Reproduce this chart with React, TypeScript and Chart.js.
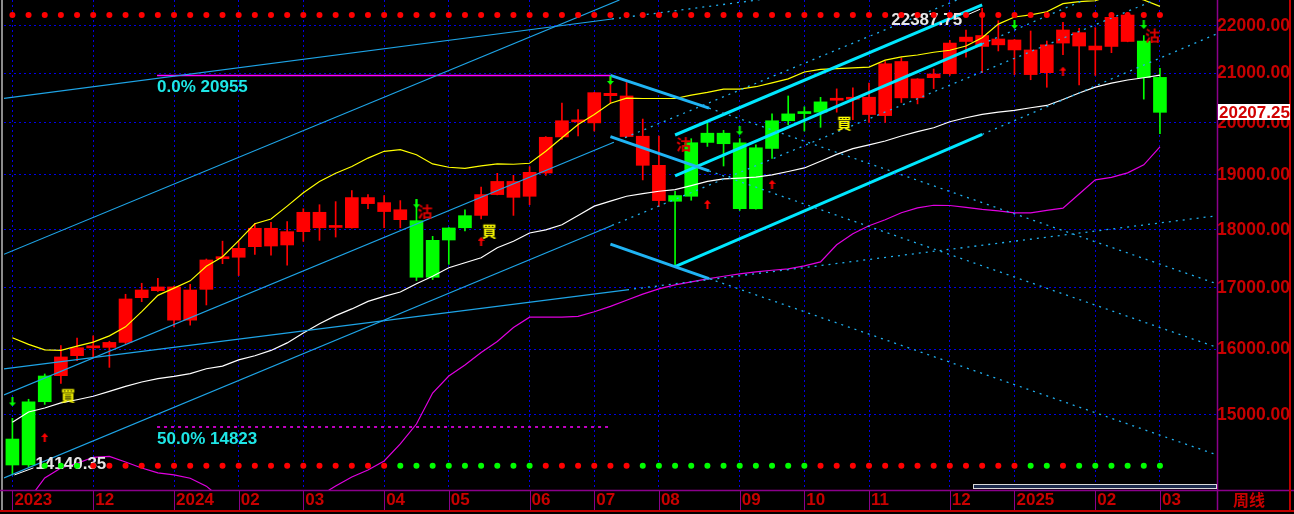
import React, { useEffect, useRef } from 'react';
import { Chart, registerables } from 'chart.js';

Chart.register(...registerables);

// ---------------- data ----------------
const xTickIndex = [0, 5, 10, 14, 18, 23, 27, 32, 36, 40, 45, 49, 53, 58, 62, 67, 71];
const xTickText = ['2023', '12', '2024', '02', '03', '04', '05', '06', '07', '08', '09', '10', '11', '12', '2025', '02', '03'];
const yTickValues = [15000, 16000, 17000, 18000, 19000, 20000, 21000, 22000];
const xMin = -0.52;
const xMax = 74.53;
const yMin = 13932;
const yMax = 22570;

const open = [14649, 14279, 15197, 15592, 15902, 16025, 16032, 16111, 16836, 16953,
  17015, 16468, 16975, 17495, 17520, 17703, 18027, 17733, 17967, 18313,
  18042, 18036, 18580, 18488, 18359, 18162, 17178, 17820, 18036, 18257,
  18635, 18878, 18604, 19035, 19723, 20018, 19998, 20588, 20535, 19737,
  19180, 18513, 18604, 19617, 19796, 19611, 18377, 19501, 20040, 20182,
  20210, 20449, 20469, 20510, 20142, 21244, 20497, 20908, 20990, 21667,
  21794, 21595, 21699, 21487, 21012, 21633, 21856, 21570, 21561, 22238,
  21676, 20914];
const high = [14951, 15234, 15618, 16059, 16179, 16216, 16130, 16893, 17077, 17162,
  17030, 17060, 17490, 17800, 17800, 18117, 18135, 18147, 18377, 18450,
  18506, 18709, 18635, 18617, 18525, 18543, 17885, 18040, 18359, 18771,
  19029, 18991, 19155, 19730, 20390, 20262, 20610, 20955, 20810, 20074,
  19741, 18696, 19689, 20026, 19851, 19690, 19572, 20176, 20535, 20317,
  20508, 20679, 20699, 20795, 21244, 21321, 20890, 21087, 21689, 21914,
  22387.75, 22115, 21710, 21892, 21676, 22080, 21950, 21963, 22250, 22298,
  21794, 21101];
const low = [14140.35, 14255, 15157, 15474, 15825, 15877, 15720, 16090, 16770, 16940,
  16360, 16387, 16716, 17409, 17207, 17570, 17558, 17386, 17796, 17814,
  17872, 18030, 18377, 18036, 18036, 17122, 17139, 17398, 17978, 18193,
  18630, 18257, 18450, 18991, 19675, 19741, 19838, 20390, 19720, 18906,
  18420, 17369, 18531, 19540, 19167, 18346, 18370, 19311, 19960, 19838,
  19911, 20210, 20060, 20006, 20006, 20403, 20376, 20685, 20955, 21334,
  21012, 21466, 20972, 20866, 20712, 21385, 20759, 20955, 21430, 21660,
  20471, 19786];
const close = [14279, 15197, 15587, 15882, 16027, 16040, 16111, 16815, 16964, 17015,
  16468, 16964, 17473, 17510, 17675, 18027, 17715, 17967, 18313, 18036,
  18058, 18580, 18470, 18326, 18180, 17178, 17814, 18032, 18252, 18635,
  18878, 18585, 19048, 19717, 20040, 20035, 20602, 20541, 19731, 19180,
  18525, 18617, 19611, 19796, 19592, 18377, 19514, 20040, 20176, 20198,
  20416, 20465, 20485, 20163, 21197, 20497, 20882, 20984, 21633, 21760,
  21561, 21720, 21487, 20972, 21595, 21914, 21570, 21487, 22188, 21667,
  20908, 20207.25];
// 'B' = buy state (red candle), 'S' = sell state (green candle)
const candleSignal = ['S', 'S', 'S', 'B', 'B', 'B', 'B', 'B', 'B', 'B',
  'B', 'B', 'B', 'B', 'B', 'B', 'B', 'B', 'B', 'B',
  'B', 'B', 'B', 'B', 'B', 'S', 'S', 'S', 'S', 'B',
  'B', 'B', 'B', 'B', 'B', 'B', 'B', 'B', 'B', 'B',
  'B', 'S', 'S', 'S', 'S', 'S', 'S', 'S', 'S', 'S',
  'S', 'B', 'B', 'B', 'B', 'B', 'B', 'B', 'B', 'B',
  'B', 'B', 'B', 'B', 'B', 'B', 'B', 'B', 'B', 'B',
  'S', 'S'];
const maYellow = [16186, 16079, 15992, 15984, 16052, 16116, 16215, 16360, 16606, 16875,
  16995, 17118, 17364, 17530, 17810, 18107, 18191, 18424, 18667, 18875,
  19032, 19156, 19317, 19446, 19479, 19381, 19206, 19143, 19124, 19168,
  19206, 19200, 19219, 19446, 19709, 19966, 20166, 20388, 20490, 20484,
  20484, 20484, 20551, 20607, 20675, 20675, 20723, 20800, 20883, 21025,
  21080, 21095, 21110, 21127, 21272, 21340, 21380, 21438, 21481, 21570,
  21745, 22040, 22195, 22240, 22310, 22490, 22535, 22555, 22670, 22670,
  22570, 22430];
const maWhite = [14893, 15045, 15104, 15179, 15227, 15279, 15352, 15428, 15495, 15546,
  15582, 15624, 15698, 15740, 15836, 15901, 15984, 16103, 16262, 16410,
  16541, 16651, 16775, 16857, 16930, 17069, 17195, 17340, 17426, 17512,
  17684, 17798, 17943, 18000, 18090, 18255, 18424, 18515, 18605, 18654,
  18696, 18727, 18800, 18878, 18927, 18940, 18958, 19000, 19064, 19130,
  19257, 19387, 19497, 19571, 19644, 19741, 19826, 19903, 20020, 20099,
  20165, 20211, 20245, 20298, 20344, 20463, 20596, 20715, 20795, 20861,
  20907, 20960];
const maMagenta = [null, 13800, 14098, 14237, 14303, 14388, 14400, 14322, 14237, 14168,
  14140, 14094, 13985, 13800, 13600, 13500, 13450, 13500, 13650, 13850,
  13987, 14112, 14209, 14336, 14578, 14867, 15328, 15586, 15757, 15953,
  16126, 16349, 16517, 16517, 16517, 16529, 16604, 16693, 16794, 16895,
  16983, 17050, 17101, 17152, 17195, 17234, 17268, 17297, 17322, 17372,
  17441, 17737, 17929, 18071, 18178, 18304, 18394, 18440, 18436, 18403,
  18367, 18340, 18304, 18304, 18349, 18389, 18647, 18907, 18953, 19037,
  19188, 19533];
const bottomDotSignal = [null, null, 'G', 'G', 'G', 'R', 'R', 'R', 'R', 'R',
  'R', 'R', 'R', 'R', 'R', 'R', 'R', 'R', 'R', 'R',
  'R', 'R', 'R', 'R', 'G', 'G', 'G', 'G', 'G', 'G',
  'G', 'G', 'G', 'R', 'R', 'R', 'R', 'R', 'R', 'G',
  'G', 'G', 'G', 'G', 'G', 'G', 'G', 'G', 'G', 'G',
  'R', 'R', 'R', 'R', 'R', 'R', 'R', 'R', 'R', 'R',
  'R', 'R', 'R', 'G', 'G', 'R', 'G', 'G', 'G', 'G',
  'G', 'G'];
const topDotLevel = 22240;
const bottomDotLevel = 14270;
const lastPrice = 20207.25;
const highIndex = 60;
const lowIndex = 0;

const fibFrom = 8.95;
const fibTo = 37;
const fibLevels = [{ pct: '0.0%', value: 20955 }, { pct: '50.0%', value: 14823 }];

const downArrows = [[0, 15193], [25, 18467], [37, 20851], [45, 19843], [62, 22032], [70, 22032]];
const upArrows = [[2, 14671], [29, 17797], [43, 18458], [47, 18823], [65, 21043]];
const buyMarks = [[3.44, 15299], [29.5, 17991], [51.46, 20006]];
const sellMarks = [[25.53, 18340], [41.53, 19596], [70.54, 21806]];

// trend lines: [x1, v1, x2, v2]
const thinLines = [
  [-0.52, 20488, 37.1, 22152],
  [-0.52, 17571, 37.56, 22570],
  [-0.52, 15299, 37.1, 19606],
  [-0.52, 14100, 37.1, 18077],
  [-0.52, 15695, 38.03, 16967],
];
const dottedLines = [
  [37.1, 22152, 48.1, 22664],
  [37.1, 19606, 58.44, 22570],
  [37.1, 18077, 70.69, 22570],
  [38.03, 16967, 74.53, 18250],
  [60, 21614, 66.3, 22570],
  [60, 19771, 74.53, 21834],
  [43.1, 20290, 74.53, 17067],
  [43.1, 19075, 74.53, 16032],
  [43.1, 17156, 74.53, 14421],
];
const channelLines = [
  [41, 19761, 60, 22460],
  [41, 18981, 60, 21614],
  [41, 17360, 60, 19771],
];
const fallLines = [
  [37, 20955, 43.1, 20290],
  [37, 19728, 43.1, 19075],
  [37, 17748, 43.1, 17156],
];

// ---------------- helpers ----------------
const FONT = '"Liberation Sans", Arial, sans-serif';
const RED = '#ff0000';
const GREEN = '#00ff00';
const AXIS_RED = '#c80000';
const GRID_BLUE = '#0000e6';

function makeArrow(color: string, up: boolean) {
  const c = document.createElement('canvas');
  c.width = 7; c.height = 9;
  const g = c.getContext('2d')!;
  g.fillStyle = color;
  g.beginPath();
  if (up) {
    g.moveTo(3.5, 0); g.lineTo(7, 4); g.lineTo(0, 4);
    g.closePath(); g.fill();
    g.fillRect(2.5, 4, 2, 5);
  } else {
    g.moveTo(3.5, 9); g.lineTo(7, 5); g.lineTo(0, 5);
    g.closePath(); g.fill();
    g.fillRect(2.5, 0, 2, 5);
  }
  return c;
}
function makeGlyph(text: string, color: string) {
  const c = document.createElement('canvas');
  c.width = 17; c.height = 17;
  const g = c.getContext('2d')!;
  g.fillStyle = color;
  g.font = 'bold 15px "Noto Sans CJK SC", sans-serif';
  g.textAlign = 'center';
  g.textBaseline = 'middle';
  g.fillText(text, 8.5, 9);
  return c;
}
const seg = (l: number[]) => [{ x: l[0], y: l[1] }, { x: l[2], y: l[3] }];
const series = (arr: (number | null)[]) => arr.map((v, i) => ({ x: i, y: v }));

const decoPlugin = {
  id: 'deco',
  beforeDraw(chart: any) {
    const { ctx, width, height } = chart;
    ctx.save();
    ctx.fillStyle = '#000';
    ctx.fillRect(0, 0, width, height);
    ctx.restore();
  },
  beforeDatasetsDraw(chart: any) {
    chart.$extremesDone = false;
  },
  beforeDatasetDraw(chart: any, args: any) {
    const ds: any = chart.data.datasets[args.index];
    if (!ds.isDots || chart.$extremesDone) return;
    chart.$extremesDone = true;
    const xs = chart.scales.x, ys = chart.scales.y, ctx = chart.ctx;
    ctx.save();
    ctx.font = `bold 17px ${FONT}`;
    ctx.fillStyle = '#e6e6e6';
    ctx.strokeStyle = '#ffffff';
    ctx.lineWidth = 1;
    ctx.textBaseline = 'middle';
    const hx = xs.getPixelForValue(highIndex), hy = ys.getPixelForValue(high[highIndex]);
    ctx.textAlign = 'right';
    ctx.fillText(high[highIndex].toFixed(2), hx - 20, hy + 12);
    ctx.beginPath(); ctx.moveTo(hx - 18, hy + 8); ctx.lineTo(hx - 2, hy + 1); ctx.stroke();
    const lx = xs.getPixelForValue(lowIndex), ly = ys.getPixelForValue(low[lowIndex]);
    ctx.textAlign = 'left';
    ctx.fillText(low[lowIndex].toFixed(2), lx + 23, ly - 11);
    ctx.beginPath(); ctx.moveTo(lx + 2, ly); ctx.lineTo(lx + 21, ly - 7); ctx.stroke();
    ctx.restore();
  },
  afterDatasetsDraw(chart: any) {
    const xs = chart.scales.x, ys = chart.scales.y, ctx = chart.ctx;
    ctx.save();
    ctx.font = `bold 17px ${FONT}`;
    ctx.fillStyle = '#1ee6e6';
    ctx.textAlign = 'left';
    ctx.textBaseline = 'alphabetic';
    fibLevels.forEach((f) => {
      ctx.fillText(`${f.pct} ${f.value}`, xs.getPixelForValue(fibFrom), ys.getPixelForValue(f.value) + 17);
    });
    ctx.restore();
  },
  afterDraw(chart: any) {
    const { ctx, width, height, chartArea: ca } = chart;
    const xs = chart.scales.x, ys = chart.scales.y;
    ctx.save();
    // left edge
    ctx.fillStyle = '#8c8c8c';
    ctx.fillRect(1, 0, 2, height - 2);
    // purple axis lines
    ctx.strokeStyle = '#8b008b';
    ctx.lineWidth = 1.5;
    ctx.beginPath();
    ctx.moveTo(0, ca.bottom + 0.5); ctx.lineTo(width, ca.bottom + 0.5);
    ctx.moveTo(ca.right + 0.5, 0); ctx.lineTo(ca.right + 0.5, height - 3);
    ctx.stroke();
    ctx.lineWidth = 1;
    ctx.beginPath();
    xTickIndex.forEach((i) => {
      const x = Math.round(xs.getPixelForValue(i)) + 0.5;
      ctx.moveTo(x, ca.bottom); ctx.lineTo(x, height - 3);
    });
    ctx.stroke();
    // red outer lines
    ctx.strokeStyle = '#c00000';
    ctx.lineWidth = 2;
    ctx.beginPath();
    ctx.moveTo(0, height - 3); ctx.lineTo(width, height - 3);
    ctx.moveTo(width - 4, 0); ctx.lineTo(width - 4, height - 3);
    ctx.stroke();
    // scroll indicator
    ctx.fillStyle = '#1b2a4c';
    ctx.fillRect(ca.right - 244, ca.bottom - 6, 244, 5);
    ctx.strokeStyle = '#d8d8d8';
    ctx.lineWidth = 1;
    ctx.strokeRect(ca.right - 243.5, ca.bottom - 5.5, 243, 4);
    // last price box
    const py = ys.getPixelForValue(lastPrice);
    ctx.fillStyle = '#ffffff';
    ctx.fillRect(ca.right + 1, Math.round(py) - 8, 72, 16);
    ctx.fillStyle = '#d00000';
    ctx.font = `bold 17px ${FONT}`;
    ctx.textAlign = 'left';
    ctx.textBaseline = 'middle';
    ctx.fillText(lastPrice.toFixed(2), ca.right + 2, py + 1);
    // period label
    ctx.fillStyle = AXIS_RED;
    ctx.font = 'bold 16px "Noto Sans CJK SC", sans-serif';
    ctx.fillText('周线', ca.right + 16, ca.bottom + 10);
    ctx.restore();
  },
};

export default function App() {
  const ref = useRef<HTMLCanvasElement>(null);
  useEffect(() => {
    document.body.style.margin = '0';
    const canvas = ref.current!;
    const idxs = open.map((_, i) => i);
    const candleColors = candleSignal.map((s) => (s === 'B' ? RED : GREEN));
    const lineBase = { type: 'line', pointRadius: 0, tension: 0, fill: false, order: 3 };
    const datasets: any[] = [
      {
        type: 'bar', label: 'wick', order: 6, grouped: false,
        data: idxs.map((i) => ({ x: i, y: [low[i], high[i]] })),
        backgroundColor: candleColors, borderWidth: 0,
        barThickness: 1, maxBarThickness: 1, minBarLength: 1,
      },
      {
        type: 'bar', label: 'body', order: 5, grouped: false,
        data: idxs.map((i) => ({ x: i, y: [open[i], close[i]] })),
        backgroundColor: candleColors, borderWidth: 0,
        barThickness: 13, maxBarThickness: 13, minBarLength: 2,
      },
      ...thinLines.map((l) => ({ ...lineBase, data: seg(l), borderColor: '#1ea4e6', borderWidth: 1.2 })),
      ...dottedLines.map((l) => ({ ...lineBase, data: seg(l), borderColor: '#20b0f0', borderWidth: 1.3, borderDash: [2, 5] })),
      ...fallLines.map((l) => ({ ...lineBase, data: seg(l), borderColor: '#20b4f4', borderWidth: 3 })),
      ...channelLines.map((l) => ({ ...lineBase, data: seg(l), borderColor: '#00e8ff', borderWidth: 3 })),
      { ...lineBase, data: series(maMagenta), borderColor: '#e000e0', borderWidth: 1.2 },
      { ...lineBase, data: series(maWhite), borderColor: '#ffffff', borderWidth: 1.2 },
      { ...lineBase, data: series(maYellow), borderColor: '#ffff00', borderWidth: 1.2 },
      { ...lineBase, data: seg([fibFrom, fibLevels[0].value, fibTo, fibLevels[0].value]), borderColor: '#ff00ff', borderWidth: 1.5 },
      { ...lineBase, data: seg([fibFrom, fibLevels[1].value, fibTo, fibLevels[1].value]), borderColor: '#ff00ff', borderWidth: 1.5, borderDash: [3, 4] },
      { type: 'scatter', order: 1, data: downArrows.map(([x, y]) => ({ x, y })), pointStyle: makeArrow(GREEN, false), pointRadius: 4 },
      { type: 'scatter', order: 1, data: upArrows.map(([x, y]) => ({ x, y })), pointStyle: makeArrow(RED, true), pointRadius: 4 },
      { type: 'scatter', order: 1, data: buyMarks.map(([x, y]) => ({ x, y })), pointStyle: makeGlyph('買', '#ffff00'), pointRadius: 4 },
      { type: 'scatter', order: 1, data: sellMarks.map(([x, y]) => ({ x, y })), pointStyle: makeGlyph('沽', '#e00000'), pointRadius: 4 },
      {
        type: 'scatter', order: 0, isDots: true,
        data: idxs.map((i) => ({ x: i, y: topDotLevel })),
        pointRadius: 3, pointBorderWidth: 0, pointBackgroundColor: RED,
      },
      {
        type: 'scatter', order: 0, isDots: true,
        data: idxs.map((i) => ({ x: i, y: bottomDotSignal[i] ? bottomDotLevel : null })),
        pointRadius: 3, pointBorderWidth: 0,
        pointBackgroundColor: bottomDotSignal.map((s) => (s === 'G' ? GREEN : RED)),
      },
    ];

    const chart = new Chart(canvas, {
      type: 'bar',
      data: { datasets },
      options: {
        animation: false,
        responsive: false,
        events: [],
        layout: { autoPadding: false, padding: { left: 4, right: 4, top: 0, bottom: 4 } },
        plugins: { legend: { display: false }, tooltip: { enabled: false } },
        scales: {
          x: {
            type: 'linear', min: xMin, max: xMax, offset: false,
            afterBuildTicks: (s: any) => { s.ticks = xTickIndex.map((v) => ({ value: v })); },
            afterFit: (s: any) => { s.height = 20; s.paddingLeft = 0; s.paddingRight = 0; },
            grid: { color: GRID_BLUE, lineWidth: 1, drawTicks: false, offset: false },
            border: { display: false, dash: [2, 3] },
            ticks: {
              autoSkip: false, maxRotation: 0, minRotation: 0, align: 'start', padding: 0, labelOffset: 2,
              color: AXIS_RED, font: { family: FONT, size: 17, weight: 'bold' },
              callback: (v: any) => { const k = xTickIndex.indexOf(Number(v)); return k >= 0 ? xTickText[k] : ''; },
            },
          },
          y: {
            type: 'logarithmic', position: 'right', min: yMin, max: yMax,
            afterBuildTicks: (s: any) => { s.ticks = yTickValues.map((v) => ({ value: v })); },
            afterFit: (s: any) => { s.width = 73; s.paddingTop = 0; s.paddingBottom = 0; },
            grid: { color: GRID_BLUE, lineWidth: 1, drawTicks: false },
            border: { display: false, dash: [2, 3] },
            ticks: {
              padding: 0, color: AXIS_RED, font: { family: FONT, size: 17.5, weight: 'bold' },
              callback: (v: any) => Number(v).toFixed(2),
            },
          },
        },
      } as any,
      plugins: [decoPlugin],
    } as any);
    return () => chart.destroy();
  }, []);
  return (
    <div style={{ position: 'fixed', left: 0, top: 0, width: 1294, height: 514, background: '#000' }}>
      <canvas ref={ref} width={1294} height={514} style={{ display: 'block', width: 1294, height: 514 }} />
    </div>
  );
}
